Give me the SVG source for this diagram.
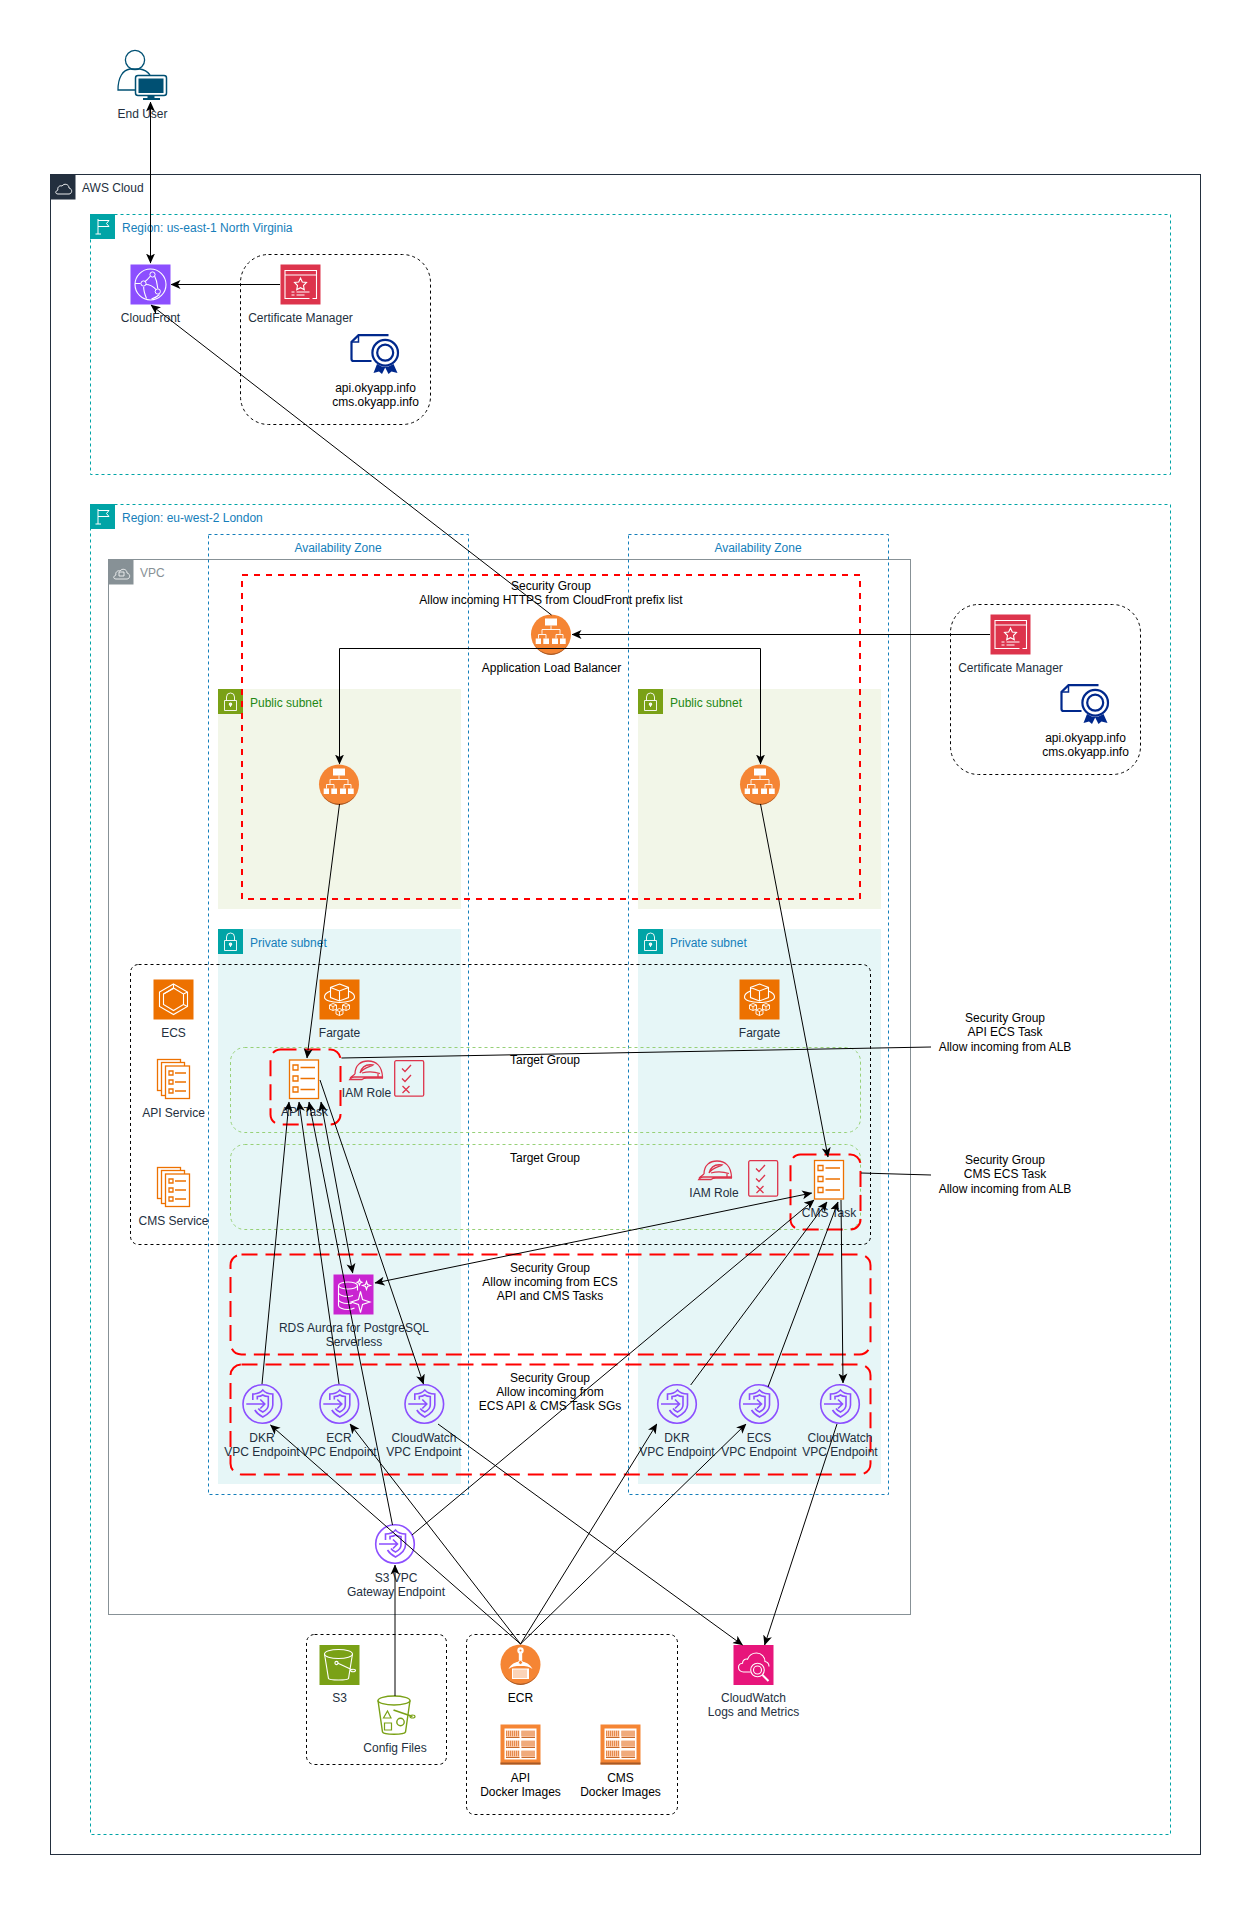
<svg xmlns="http://www.w3.org/2000/svg" width="1251" height="1905" viewBox="0 0 1251 1905">
<style>
text{font-family:"Liberation Sans",Arial,sans-serif;font-size:12px}
.t{text-anchor:middle;fill:#232F3E}
.k{text-anchor:middle;fill:#000}
.l{fill:#147EBA}
.wl{fill:none;stroke:#fff;stroke-width:1.1}
.wf{fill:#fff}
.conn path{fill:none;stroke:#000;stroke-width:1}
.red1{fill:none;stroke:#FF0000;stroke-width:2;stroke-dasharray:6 6}
.red2{fill:none;stroke:#FF0000;stroke-width:2;stroke-dasharray:16 8}
.grp{fill:none;stroke:#000;stroke-width:1;stroke-dasharray:3 3}
.tg{fill:none;stroke:#97D077;stroke-width:1;stroke-dasharray:3 3}
.az{fill:none;stroke:#147EBA;stroke-width:1;stroke-dasharray:3 3}
.reg{fill:none;stroke:#00A4A6;stroke-width:1;stroke-dasharray:3 3}
.ol{fill:#fff;stroke:#ED7100;stroke-width:1.3}
.oline{fill:none;stroke:#ED7100;stroke-width:1.3}
.rd{fill:none;stroke:#DD344C;stroke-width:1.3}
.pu{fill:none;stroke:#8C4FFF;stroke-width:1.6}
.cell{stroke:#E58A4E;stroke-width:5.500;stroke-dasharray:1 1;fill:none}
</style>
<defs>
<marker id="ah" viewBox="0 0 10 10" refX="9.5" refY="5" markerWidth="10" markerHeight="10" markerUnits="userSpaceOnUse" orient="auto-start-reverse"><path d="M10,5 L0,0.5 L2.6,5 L0,9.5 Z" fill="#000"/></marker>
<g id="i-flag"><rect width="25" height="25" fill="#00A4A6"/><path d="M8,5V20M5.500,20H11M8,6.500H19L16.500,9.500L19,12.500H8" fill="none" stroke="#fff"/></g>
<g id="i-lockg"><rect width="25" height="25" fill="#7AA116"/><path d="M6.500,11.500H18.500V21.500H6.500ZM8.500,11.500V8a4,4 0 0 1 8,0V11.500M12.500,15v3" fill="none" stroke="#fff" stroke-width=".9"/><circle cx="12.500" cy="15.300" r="1.200" class="wl" stroke-width=".8"/></g>
<g id="i-lockb"><rect width="25" height="25" fill="#00A4A6"/><path d="M6.500,11.500H18.500V21.500H6.500ZM8.500,11.500V8a4,4 0 0 1 8,0V11.500M12.500,15v3" fill="none" stroke="#fff" stroke-width=".9"/><circle cx="12.500" cy="15.300" r="1.200" class="wl" stroke-width=".8"/></g>
<g id="i-cf"><rect width="40" height="40" fill="#8C4FFF"/><circle cx="20" cy="20" r="15.500" class="wl"/><path d="M4.500,19H10M13.500,18C16,16 18,14 20,11.500M15,20C19,20 23,22 26,25.500M23.500,10C26,15 27,20 27.300,24M16,34C14,29 13,26 13.200,22.500M29,30C27,32 24,33.500 21,34.500" class="wl"/><circle cx="22" cy="10" r="2.600" fill="#8C4FFF" stroke="#fff"/><circle cx="13" cy="19" r="2.600" fill="#8C4FFF" stroke="#fff"/><circle cx="27.300" cy="27" r="2.600" fill="#8C4FFF" stroke="#fff"/></g>
<g id="i-acm"><rect width="40" height="40" fill="#DD344C"/><path d="M32,34H36V6H4.500V34H29M4.500,10.500H36" class="wl"/><path d="M20,13.500L21.800,17.500L26,18L23,21L23.800,25.300L20,23.200L16.200,25.300L17,21L14,18L18.200,17.500Z" class="wl"/><path d="M11,27.500H14M16,27.500H29M11,30.500H14M16,30.500H24" class="wl"/></g>
<g id="i-cert"><path d="M21,27H3q-2,0 -2,-2V8L8,1.200H38" fill="none" stroke="#00288C" stroke-width="2.200"/><path d="M1,8H8V1.200" fill="none" stroke="#00288C" stroke-width="1.500"/><circle cx="34.700" cy="18.700" r="12.800" fill="#fff" stroke="#00288C" stroke-width="2.200"/><circle cx="34.700" cy="18.700" r="8" fill="none" stroke="#00288C" stroke-width="2.200"/><path d="M26.500,30L23,39L28.500,37.500L31.500,40L34.700,33.500L38,40L41,37.500L47,39L43,30L38,32.500H31.500Z" fill="#00288C"/></g>
<g id="i-alb"><circle cx="20" cy="20" r="20" fill="#F58534"/><path d="M2,28A20,20 0 0 0 38,28A20,22 0 0 1 2,28Z" fill="#A85A26"/><path d="M14,4H26V11H14ZM4.700,24H10V29.500H4.700ZM12.300,24H18V29.500H12.300ZM21,24H27V29.500H21ZM29,24H34.700V29.500H29Z" class="wf"/><path d="M20,11V15M11,19V15H29V19M7.500,24V20H15V24M25,24V20H32V24M11,19V20M29,19V20" fill="none" stroke="#fff" stroke-width=".9"/></g>
<g id="i-ecs"><rect width="40" height="40" fill="#ED7100"/><path d="M20,4.500L34,12.500V27L20,35L6,27V12.500ZM20,4.500V8.500M34,12.500L30,14.500M20,8.500L30,14.500V25L20,31L10,25V14.500Z" class="wl"/><path d="M34,27L30,25M20,9L10,14.500" class="wl"/></g>
<g id="i-far"><rect width="40" height="40" fill="#ED7100"/><path d="M20,4.500L29,8V18L20,21.500L11,18V8ZM11,8L20,11.500L29,8M20,11.500V21.500" class="wl"/><path d="M11,11.500C7,13 5,15 5,17.500C5,21 12,23 20,23C28,23 35,21 35,17.500C35,15 33,13 29,11.500" class="wl"/><path d="M10,25.500L13.500,24L17,25.500V29.500L13.500,31L10,29.500ZM10,25.500L13.500,27L17,25.500M13.500,27V31M30,25.500L26.500,24L23,25.500V29.500L26.500,31L30,29.500ZM30,25.500L26.500,27L23,25.500M26.500,27V31M16.500,30.500L20,29L23.500,30.500V34.500L20,36L16.500,34.500ZM16.500,30.500L20,32L23.500,30.500M20,32V36" fill="none" stroke="#fff" stroke-width=".9"/></g>
<g id="i-task"><rect x=".5" y=".5" width="29" height="38.500" class="ol"/><path d="M4,5.500H9V10.500H4ZM4,16.500H9V21.500H4ZM4,27.500H9V32.500H4Z" class="oline"/><path d="M11.500,8H26M11.500,19H26M11.500,30H26" class="oline"/></g>
<g id="i-svc"><rect x=".5" y=".5" width="23" height="31" class="ol"/><rect x="4.500" y="3.500" width="23" height="33" class="ol"/><rect x="8.500" y="7" width="24" height="32.500" class="ol"/><path d="M12,12H16V16H12ZM12,21H16V25H12ZM12,30H16V34H12Z" class="oline"/><path d="M18,14H29M18,23H29M18,32H29" class="oline"/></g>
<g id="i-hat"><path d="M6,14C6,5 12,1 19,1C27,1 33,6 33.500,17H5C2,17 1,19 .7,19.500H13C14,18.500 16,18 18,18H34M6,14L1,18M11,13C13,6 18,4 24,5C22,6.500 14,8 11,13ZM13,13C18,11.500 25,11.500 31,13.500" class="rd"/><path d="M29,13.500V17" class="rd"/></g>
<g id="i-chk"><rect x=".7" y=".7" width="29" height="35.500" rx="1.500" class="rd"/><path d="M8,8.500L11,11.500L17,5M8,18.500L11,21.500L17,15M8.500,26L15.500,33M15.500,26L8.500,33" class="rd" stroke-width="1.500"/></g>
<g id="i-ep"><circle cx="20" cy="20" r="19.300" class="pu"/><path d="M10.500,16V10C14,10 18,9 20.500,6C23,9 27,10 30.500,10V21C30.500,26 26,30 20.500,33C16.500,31 14,28.500 12.500,26" class="pu"/><path d="M15,15.500V12.500C17,12.500 19,12 20.500,11C22,12 24,12.500 26,12.500V21C26,24 23.500,26.500 20.500,28C18.500,27 17,26 16,24.500" class="pu"/><path d="M4,20H22.500M18,15.500L22.500,20L18,24.500" class="pu"/></g>
<g id="i-rds"><rect width="40" height="40" fill="#C925D1"/><ellipse cx="14.500" cy="11" rx="9.500" ry="3.500" class="wl"/><path d="M5,11V31C5,33 9,35 14.500,35C17,35 19,34.500 21,33.500M24,11V16M5,18C5,20 9,22 14.500,22C16.500,22 18,21.500 19.500,21M5,25C5,27 9,29 14.500,29C16,29 17.500,28.800 18.500,28.500" class="wl"/><path d="M27,17L29,25L36.500,27.500L29,30L27,38L25,30L17.500,27.500L25,25ZM33,7L34,10L37,11L34,12L33,15L32,12L29,11L32,10Z M26,5L26.800,7L28.500,7.800L26.800,8.500L26,10.500L25.200,8.500L23.500,7.800L25.200,7Z" class="wl"/></g>
<g id="i-s3"><rect width="40" height="40" fill="#7AA116"/><ellipse cx="19" cy="9" rx="14" ry="4.500" class="wl"/><path d="M5,9L9,33.500C10,35.500 28,35.500 29,33.500L33,9M18,18L33,25" class="wl"/><circle cx="17" cy="18" r="1.600" class="wl"/><ellipse cx="33.500" cy="25.500" rx="2.500" ry="1.200" class="wl"/></g>
<g id="i-cfg"><ellipse cx="17.500" cy="5.500" rx="16" ry="4.500" fill="none" stroke="#7AA116" stroke-width="1.400"/><path d="M1.500,5.500L6,37C7,40 28,40 29,37L33.500,5.500" fill="none" stroke="#7AA116" stroke-width="1.400"/><path d="M17,15L36,21.500" fill="none" stroke="#7AA116" stroke-width="1.800"/><ellipse cx="36" cy="21.500" rx="2.500" ry="1.500" fill="none" stroke="#7AA116" stroke-width="1.200"/><path d="M11,16L14.500,23H7ZM8,28H15V35H8Z" fill="none" stroke="#7AA116" stroke-width="1.200"/><circle cx="24" cy="27" r="3.700" fill="none" stroke="#7AA116" stroke-width="1.400"/></g>
<g id="i-ecr"><circle cx="20" cy="20" r="20" fill="#F58534"/><path d="M2,28A20,20 0 0 0 38,28A20,22 0 0 1 2,28Z" fill="#A85A26"/><circle cx="20" cy="6" r="3.200" class="wf"/><path d="M18.300,8H21.700V16H18.300ZM8,24.500C10,20 15,17 20,17C25,17 30,20 32,24.500C29,22 25,21.500 20,21.500C15,21.500 11,22 8,24.500Z" class="wf"/><circle cx="20" cy="18" r="2" fill="#F58534" stroke="#fff"/><path d="M11.500,24H28.500V34.500H11.500Z" class="wf"/><path d="M13.500,25V33.500M15.500,25V33.500M17.500,25V33.500M19.500,25V33.500M21.500,25V33.500M23.500,25V33.500M25.500,25V33.500" stroke="#F58534" stroke-width=".7" fill="none"/><circle cx="20" cy="6" r="1" fill="#F58534"/></g>
<g id="i-img"><rect width="40" height="40" fill="#F58534"/><rect y="38" width="40" height="2" fill="#A85A26"/><rect x="4" y="4" width="32" height="31" fill="#fff"/><g fill="#FBC9A8"><rect x="5.500" y="6" width="13.500" height="7"/><rect x="21" y="6" width="13.500" height="7"/><rect x="5.500" y="16" width="13.500" height="7"/><rect x="21" y="16" width="13.500" height="7"/><rect x="5.500" y="26" width="13.500" height="7"/><rect x="21" y="26" width="13.500" height="7"/></g><path d="M5.500,9H19M21,9H34.500M5.500,19H19M21,19H34.500M5.500,29H19M21,29H34.500" class="cell"/><path d="M5.500,13H19M21,13H34.500M5.500,23H19M21,23H34.500M5.500,33H19M21,33H34.500" stroke="#C86A2B" stroke-width="1.200"/></g>
<g id="i-cw"><rect width="40" height="40" fill="#E7157B"/><path d="M17,27H10C7,27 5,25 5,22.500C5,20 7,18.500 9,18.300C9,15 12,13.500 14,14.300C15.500,10.500 19,8 23,8C28,8 31.500,12 31.500,16.500C34,17 35.500,19 35.500,21.500" class="wl"/><circle cx="24" cy="25" r="6.800" class="wl"/><circle cx="24" cy="25" r="4" class="wl"/><path d="M29,30L35,36" stroke="#fff" stroke-width="2" fill="none"/></g>
<g id="i-user"><circle cx="17" cy="10" r="9.600" fill="none" stroke="#005073" stroke-width="1.300"/><path d="M32,25C29,21 26,19.500 22,19H12C5,20 0,27 0,40H17" fill="none" stroke="#005073" stroke-width="1.300"/><rect x="17.500" y="25.500" width="31" height="20" rx="2.500" fill="#fff" stroke="#005073" stroke-width="1.500"/><rect x="20.500" y="28.500" width="25" height="14.500" fill="#005073"/><path d="M29.500,46H36.500V48.500H29.500ZM25,48H42V50H25Z" fill="#005073"/></g>
</defs>

<g id="containers">
<g id="aws-cloud"><rect x="50.500" y="174.500" width="1150" height="1680" fill="#fff" stroke="#232F3E"/><rect x="50.500" y="174.500" width="25" height="25" fill="#232F3E"/><path d="M58,194H69C72,194 73,189 69,188C69,184 64,183 62,186C59,185 57,188 58,190C55,191 55,194 58,194Z" fill="none" stroke="#fff" stroke-width=".9"/><text x="82" y="192" fill="#232F3E">AWS Cloud</text></g>
<g id="region-us"><rect x="90.500" y="214.500" width="1080" height="260" class="reg"/><use href="#i-flag" x="90" y="214"/><text x="122" y="232" class="l">Region: us-east-1 North Virginia</text></g>
<g id="region-eu"><rect x="90.500" y="504.500" width="1080" height="1330" class="reg"/><use href="#i-flag" x="90" y="504"/><text x="122" y="522" class="l">Region: eu-west-2 London</text></g>
<g id="vpc"><rect x="108.500" y="559.500" width="802" height="1055" fill="none" stroke="#879196"/><rect x="108.500" y="559.500" width="25" height="25" fill="#879196"/><path d="M116,579H127C130,579 131,574 127,573C127,569 122,568 120,571C117,570 115,573 116,575C113,576 113,579 116,579ZM119,576H124V572H119Z" fill="none" stroke="#fff" stroke-width=".8"/><text x="140" y="577" fill="#879196">VPC</text></g>
<g id="public-subnet-1"><rect x="218" y="689" width="243" height="220" fill="#F2F6E8"/><use href="#i-lockg" x="218" y="689"/><text x="250" y="707" fill="#248814">Public subnet</text></g>
<g id="public-subnet-2"><rect x="638" y="689" width="243" height="220" fill="#F2F6E8"/><use href="#i-lockg" x="638" y="689"/><text x="670" y="707" fill="#248814">Public subnet</text></g>
<g id="private-subnet-1"><rect x="218" y="929" width="243" height="555" fill="#E6F6F7"/><use href="#i-lockb" x="218" y="929"/><text x="250" y="947" class="l">Private subnet</text></g>
<g id="private-subnet-2"><rect x="638" y="929" width="243" height="555" fill="#E6F6F7"/><use href="#i-lockb" x="638" y="929"/><text x="670" y="947" class="l">Private subnet</text></g>
<g id="az-1"><rect x="208.500" y="534.500" width="260" height="960" class="az"/><text x="338" y="552" class="l" text-anchor="middle">Availability Zone</text></g>
<g id="az-2"><rect x="628.500" y="534.500" width="260" height="960" class="az"/><text x="758" y="552" class="l" text-anchor="middle">Availability Zone</text></g>
<g id="sg-alb"><rect x="242" y="575" width="618" height="324" class="red1"/><text x="551" y="590" class="k">Security Group</text><text x="551" y="604" class="k">Allow incoming HTTPS from CloudFront prefix list</text></g>
<g id="ecs-cluster"><rect x="130.500" y="964.500" width="740" height="280" rx="8" class="grp"/></g>
<g id="tg-api"><rect x="230.500" y="1047.500" width="630" height="85" rx="14" class="tg"/><text x="545" y="1064" class="k">Target Group</text></g>
<g id="tg-cms"><rect x="230.500" y="1144.500" width="630" height="85" rx="14" class="tg"/><text x="545" y="1162" class="k">Target Group</text></g>
<g id="sg-db"><rect x="230.500" y="1254.500" width="640" height="100" rx="11" class="red2"/><text x="550" y="1272" class="k">Security Group</text><text x="550" y="1286" class="k">Allow incoming from ECS</text><text x="550" y="1300" class="k">API and CMS Tasks</text></g>
<g id="sg-ep"><rect x="230.500" y="1364.500" width="640" height="110" rx="11" class="red2"/><text x="550" y="1382" class="k">Security Group</text><text x="550" y="1396" class="k">Allow incoming from</text><text x="550" y="1410" class="k">ECS API &amp; CMS Task SGs</text></g>
<g id="group-acm-1"><rect x="240.500" y="254.500" width="190" height="170" rx="28" class="grp"/></g>
<g id="group-acm-2"><rect x="950.500" y="604.500" width="190" height="170" rx="28" class="grp"/></g>
<g id="group-s3"><rect x="306.500" y="1634.500" width="140" height="130" rx="8" class="grp"/></g>
<g id="group-ecr"><rect x="466.500" y="1634.500" width="211" height="180" rx="8" class="grp"/></g>
</g>

<g id="end-user"><use href="#i-user" x="118" y="50"/><text x="142.500" y="118" class="t">End User</text></g>
<g id="cloudfront"><use href="#i-cf" x="130.500" y="264.500"/><text x="150.500" y="322" class="t">CloudFront</text></g>
<g id="acm-1"><use href="#i-acm" x="280.500" y="264.500"/><text x="300.500" y="322" class="t">Certificate Manager</text></g>
<g id="cert-1"><use href="#i-cert" x="350.500" y="334"/><text x="375.500" y="392" class="k">api.okyapp.info</text><text x="375.500" y="406" class="k">cms.okyapp.info</text></g>
<g id="acm-2"><use href="#i-acm" x="990.500" y="614.500"/><text x="1010.500" y="672" class="t">Certificate Manager</text></g>
<g id="cert-2"><use href="#i-cert" x="1060.500" y="684"/><text x="1085.500" y="742" class="k">api.okyapp.info</text><text x="1085.500" y="756" class="k">cms.okyapp.info</text></g>
<g id="alb"><use href="#i-alb" x="531" y="614.500"/><text x="551.500" y="672" class="k">Application Load Balancer</text></g>
<g id="alb-node-1"><use href="#i-alb" x="319" y="764.500"/></g>
<g id="alb-node-2"><use href="#i-alb" x="740" y="764.500"/></g>
<g id="ecs"><use href="#i-ecs" x="153.500" y="979.500"/><text x="173.500" y="1037" class="t">ECS</text></g>
<g id="fargate-1"><use href="#i-far" x="319.500" y="979.500"/><text x="339.500" y="1037" class="t">Fargate</text></g>
<g id="fargate-2"><use href="#i-far" x="739.500" y="979.500"/><text x="759.500" y="1037" class="t">Fargate</text></g>
<g id="api-service"><use href="#i-svc" x="157" y="1059"/><text x="173.500" y="1117" class="t">API Service</text></g>
<g id="cms-service"><use href="#i-svc" x="157" y="1167"/><text x="173.500" y="1225" class="t">CMS Service</text></g>
<g id="api-task"><rect x="270.500" y="1049.500" width="70" height="75" rx="10" class="red2"/><use href="#i-task" x="289" y="1059.500"/><text x="304.500" y="1116" class="t">API Task</text></g>
<g id="iam-1"><use href="#i-hat" x="349" y="1060"/><use href="#i-chk" x="394" y="1060"/><text x="366.500" y="1097" class="t">IAM Role</text></g>
<g id="cms-task"><rect x="790.500" y="1154.500" width="70" height="75" rx="10" class="red2"/><use href="#i-task" x="814" y="1160"/><text x="829" y="1217" class="t">CMS Task</text></g>
<g id="iam-2"><use href="#i-hat" x="698" y="1160"/><use href="#i-chk" x="748" y="1160"/><text x="714" y="1197" class="t">IAM Role</text></g>
<g id="note-api-sg"><text x="1005" y="1022" class="k">Security Group</text><text x="1005" y="1036" class="k">API ECS Task</text><text x="1005" y="1051" class="k">Allow incoming from ALB</text></g>
<g id="note-cms-sg"><text x="1005" y="1164" class="k">Security Group</text><text x="1005" y="1178" class="k">CMS ECS Task</text><text x="1005" y="1193" class="k">Allow incoming from ALB</text></g>
<g id="rds"><use href="#i-rds" x="333.500" y="1274.500"/><text x="354" y="1332" class="t">RDS Aurora for PostgreSQL</text><text x="354" y="1346" class="t">Serverless</text></g>
<g id="ep-dkr-1"><use href="#i-ep" x="242.300" y="1384"/><text x="262" y="1442" class="t">DKR</text><text x="262" y="1456" class="t">VPC Endpoint</text></g>
<g id="ep-ecr-1"><use href="#i-ep" x="319.300" y="1384"/><text x="339" y="1442" class="t">ECR</text><text x="339" y="1456" class="t">VPC Endpoint</text></g>
<g id="ep-cw-1"><use href="#i-ep" x="404.300" y="1384"/><text x="424" y="1442" class="t">CloudWatch</text><text x="424" y="1456" class="t">VPC Endpoint</text></g>
<g id="ep-dkr-2"><use href="#i-ep" x="657" y="1384"/><text x="677" y="1442" class="t">DKR</text><text x="677" y="1456" class="t">VPC Endpoint</text></g>
<g id="ep-ecs-2"><use href="#i-ep" x="739" y="1384"/><text x="759" y="1442" class="t">ECS</text><text x="759" y="1456" class="t">VPC Endpoint</text></g>
<g id="ep-cw-2"><use href="#i-ep" x="820" y="1384"/><text x="840" y="1442" class="t">CloudWatch</text><text x="840" y="1456" class="t">VPC Endpoint</text></g>
<g id="ep-s3"><use href="#i-ep" x="375" y="1524"/><text x="396" y="1582" class="t">S3 VPC</text><text x="396" y="1596" class="t">Gateway Endpoint</text></g>
<g id="s3"><use href="#i-s3" x="319.500" y="1645"/><text x="339.500" y="1702" class="t">S3</text></g>
<g id="config-files"><use href="#i-cfg" x="376.500" y="1695"/><text x="395" y="1752" class="t">Config Files</text></g>
<g id="ecr"><use href="#i-ecr" x="500.500" y="1644.500"/><text x="520.500" y="1702" class="k">ECR</text></g>
<g id="api-images"><use href="#i-img" x="500.500" y="1724.500"/><text x="520.500" y="1782" class="k">API</text><text x="520.500" y="1796" class="k">Docker Images</text></g>
<g id="cms-images"><use href="#i-img" x="600.500" y="1724.500"/><text x="620.500" y="1782" class="k">CMS</text><text x="620.500" y="1796" class="k">Docker Images</text></g>
<g id="cloudwatch"><use href="#i-cw" x="733.500" y="1645"/><text x="753.500" y="1702" class="t">CloudWatch</text><text x="753.500" y="1716" class="t">Logs and Metrics</text></g>

<g id="connectors" class="conn">
<path d="M150.500,102V263" marker-start="url(#ah)" marker-end="url(#ah)"/>
<path d="M280,284.500H171" marker-end="url(#ah)"/>
<path d="M551.500,615L151,305" marker-end="url(#ah)"/>
<path d="M990,634.500H572" marker-end="url(#ah)"/>
<path d="M551,648.500H339.500V764" marker-end="url(#ah)"/>
<path d="M551,648.500H760.500V764" marker-end="url(#ah)"/>
<path d="M339.500,804L307,1058" marker-end="url(#ah)"/>
<path d="M760.500,804L828,1157" marker-end="url(#ah)"/>
<path d="M341.500,1058L931,1047"/>
<path d="M861,1173L931,1175"/>
<path d="M262,1384L289,1102" marker-end="url(#ah)"/>
<path d="M339,1384L299,1102" marker-end="url(#ah)"/>
<path d="M392.500,1525L309,1102" marker-end="url(#ah)"/>
<path d="M352.700,1273L321,1102" marker-start="url(#ah)" marker-end="url(#ah)"/>
<path d="M320,1080L423.500,1384" marker-end="url(#ah)"/>
<path d="M375,1283L811.700,1193" marker-start="url(#ah)" marker-end="url(#ah)"/>
<path d="M412,1535L814,1200" marker-end="url(#ah)"/>
<path d="M690.700,1385L827,1202" marker-end="url(#ah)"/>
<path d="M768,1387L838,1202" marker-end="url(#ah)"/>
<path d="M841,1200L843,1383" marker-end="url(#ah)"/>
<path d="M837,1424L764.600,1645" marker-end="url(#ah)"/>
<path d="M438,1424L742.500,1645" marker-end="url(#ah)"/>
<path d="M520.500,1644L270.500,1425" marker-end="url(#ah)"/>
<path d="M520.500,1644L350,1424" marker-end="url(#ah)"/>
<path d="M520.500,1644L656.800,1424" marker-end="url(#ah)"/>
<path d="M520.500,1644L746,1424" marker-end="url(#ah)"/>
<path d="M395,1696V1565" marker-end="url(#ah)"/>
</g>
</svg>
